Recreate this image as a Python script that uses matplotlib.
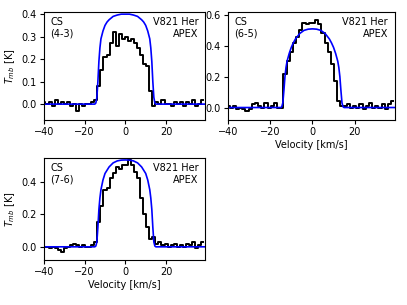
import numpy as np
import matplotlib
matplotlib.use('Agg')
import matplotlib.pyplot as plt

# channel centres [km/s]
vel = [-40.0, -38.5, -37.0, -35.5, -34.0, -32.5, -31.0, -29.5, -28.0, -26.5,
       -25.0, -23.5, -22.0, -20.5, -19.0, -17.5, -16.0, -14.5, -13.0, -11.5,
       -10.0, -8.5, -7.0, -5.5, -4.0, -2.5, -1.0, 0.5, 2.0, 3.5,
       5.0, 6.5, 8.0, 9.5, 11.0, 12.5, 14.0, 15.5, 17.0, 18.5,
       20.0, 21.5, 23.0, 24.5, 26.0, 27.5, 29.0, 30.5, 32.0, 33.5,
       35.0, 36.5, 38.0]

cs43 = [0.01, 0.00, 0.01, -0.01, 0.02, 0.00, 0.01, 0.00, 0.01, -0.01,
        0.00, -0.03, 0.00, -0.01, 0.00, 0.00, 0.01, 0.02, 0.08, 0.15,
        0.21, 0.22, 0.27, 0.32, 0.26, 0.31, 0.29, 0.30, 0.28, 0.29,
        0.27, 0.25, 0.22, 0.18, 0.17, 0.06, -0.01, 0.01, 0.00, 0.02,
        0.00, 0.00, -0.01, 0.01, 0.00, 0.01, -0.01, 0.01, 0.00, 0.02,
        -0.01, 0.00, 0.02]

cs65 = [0.01, 0.00, 0.01, -0.01, 0.00, -0.01, -0.02, -0.01, 0.02, 0.03,
        0.01, 0.00, 0.03, 0.00, 0.01, 0.03, 0.00, 0.00, 0.22, 0.30,
        0.36, 0.42, 0.46, 0.50, 0.55, 0.54, 0.55, 0.55, 0.57, 0.54,
        0.48, 0.42, 0.36, 0.28, 0.17, 0.04, 0.01, 0.01, 0.02, 0.00,
        0.01, 0.00, 0.02, -0.01, 0.01, 0.03, 0.00, 0.01, 0.00, 0.02,
        -0.01, 0.02, 0.04]

cs76 = [0.00, 0.00, -0.01, 0.00, -0.01, -0.02, -0.03, -0.01, 0.00, 0.01,
        0.02, 0.01, 0.00, 0.01, 0.00, 0.00, 0.01, 0.03, 0.15, 0.25,
        0.35, 0.36, 0.42, 0.45, 0.49, 0.48, 0.50, 0.50, 0.53, 0.50,
        0.46, 0.42, 0.30, 0.20, 0.12, 0.05, 0.06, 0.02, 0.03, 0.01,
        0.02, 0.00, 0.01, 0.02, 0.00, 0.01, 0.00, 0.02, 0.01, 0.03,
        -0.01, 0.01, 0.03]

# model profiles
vmod = [-40, -15, -14.5, -14, -13.5, -13, -12.5, -12, -11, -10, -9, -8, -6, -4, -2, 0,
        2, 4, 6, 8, 9, 10, 11, 12, 12.5, 13, 13.5, 14, 14.5, 15, 40]
mod43 = [0.0, 0.0, 0.005, 0.03, 0.10, 0.19, 0.25, 0.29, 0.325, 0.35, 0.365, 0.375, 0.39, 0.396, 0.40, 0.40,
         0.40, 0.396, 0.39, 0.375, 0.365, 0.35, 0.325, 0.29, 0.25, 0.19, 0.10, 0.03, 0.005, 0.0, 0.0]
mod65 = [0.0, 0.0, 0.005, 0.03, 0.11, 0.20, 0.26, 0.30, 0.35, 0.39, 0.42, 0.445, 0.48, 0.50, 0.508, 0.51,
         0.508, 0.50, 0.48, 0.445, 0.42, 0.39, 0.35, 0.30, 0.26, 0.20, 0.11, 0.03, 0.005, 0.0, 0.0]
mod76 = [0.0, 0.0, 0.005, 0.03, 0.12, 0.23, 0.30, 0.35, 0.41, 0.45, 0.47, 0.49, 0.515, 0.527, 0.532, 0.533,
         0.532, 0.527, 0.515, 0.49, 0.47, 0.45, 0.41, 0.35, 0.30, 0.23, 0.12, 0.03, 0.005, 0.0, 0.0]

panels = [
    ('CS\n(4-3)', cs43, mod43, (-0.07, 0.41), [0.0, 0.1, 0.2, 0.3, 0.4], [0.108, 0.607, 0.395, 0.354], True, False),
    ('CS\n(6-5)', cs65, mod65, (-0.08, 0.62), [0.0, 0.2, 0.4, 0.6], [0.560, 0.607, 0.410, 0.354], False, True),
    ('CS\n(7-6)', cs76, mod76, (-0.08, 0.545), [0.0, 0.2, 0.4], [0.108, 0.148, 0.395, 0.334], True, True),
]

plt.rcParams['font.size'] = 7
fig = plt.figure(figsize=(4.07, 3.05), dpi=100)

for name, spec, mod, ylim, yt, pos, ylab, xlab in panels:
    ax = fig.add_axes(pos)
    ax.step(vel, spec, where='mid', color='black', lw=1.4)
    ax.plot(vmod, mod, color='blue', lw=1.2)
    ax.set_xlim(-40, 39)
    ax.set_ylim(*ylim)
    ax.set_xticks([-40, -20, 0, 20])
    ax.set_yticks(yt)
    ax.tick_params(labelsize=7, length=3, pad=2)
    ax.text(0.04, 0.95, name, transform=ax.transAxes, ha='left', va='top', fontsize=7)
    ax.text(0.96, 0.95, 'V821 Her\nAPEX', transform=ax.transAxes, ha='right', va='top',
            fontsize=7, multialignment='right')
    if ylab:
        ax.set_ylabel(r'$T_{mb}$ [K]', fontsize=7, labelpad=3)
    if xlab:
        ax.set_xlabel('Velocity [km/s]', fontsize=7, labelpad=2)

fig.savefig('out.png', dpi=100)
